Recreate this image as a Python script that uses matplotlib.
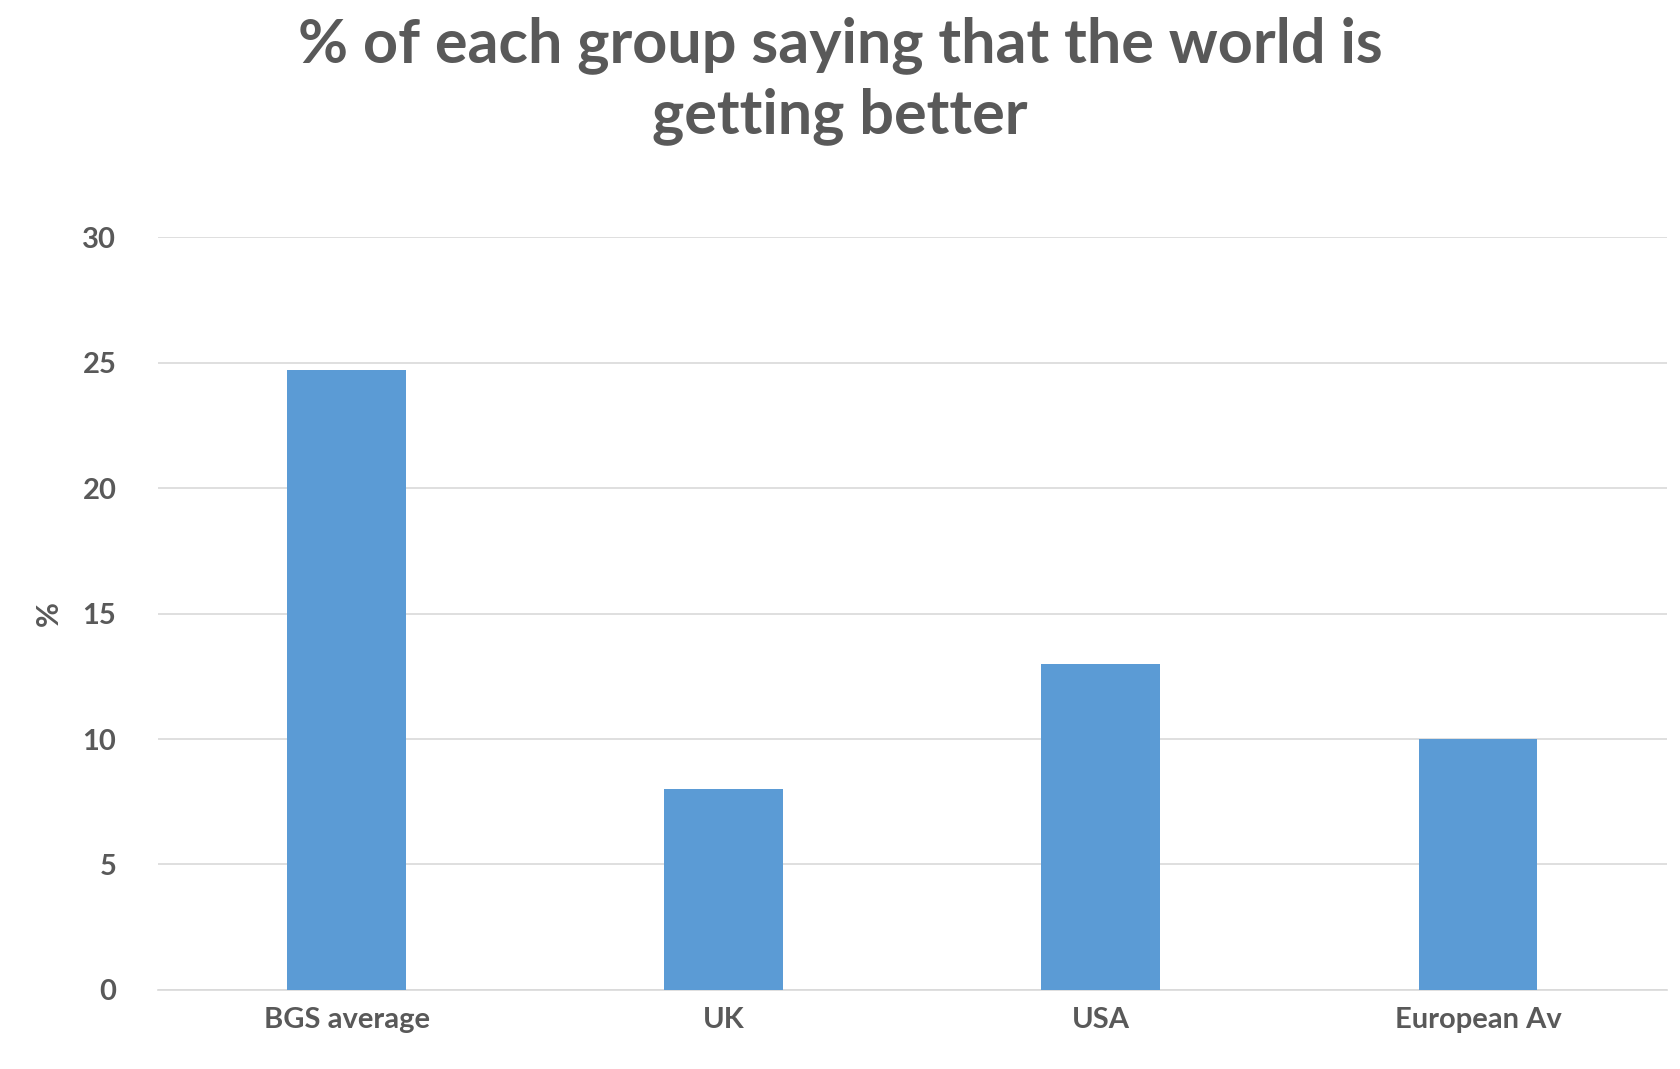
import matplotlib.pyplot as plt

categories = ["BGS average", "UK", "USA", "European Av"]
values = [24.7, 8, 13, 10]
yticks = [0, 5, 10, 15, 20, 25, 30]

plt.rcParams['font.family'] = ['Lato', 'DejaVu Sans']
grey = "#595959"

fig = plt.figure(figsize=(16.8, 10.69), dpi=100)
ax = fig.add_axes([0.094, 0.074, 0.898, 0.704])

x = range(len(categories))
ax.bar(x, values, width=0.315, color="#5B9BD5", zorder=3)

ax.set_xlim(-0.5, len(categories) - 0.5)
ax.set_ylim(0, 30)
ax.set_yticks(yticks)
ax.set_xticks(list(x))
ax.set_xticklabels(categories)
ax.grid(axis='y', color="#D9D9D9", linewidth=1.2, zorder=0)
for s in ['top', 'right', 'left']:
    ax.spines[s].set_visible(False)
ax.spines['bottom'].set_color("#D9D9D9")
ax.spines['bottom'].set_linewidth(1.2)
ax.tick_params(length=0, labelsize=21, colors=grey, pad=12)
for t in ax.get_xticklabels() + ax.get_yticklabels():
    t.set_fontweight('bold')
ax.tick_params(axis='y', pad=30)

ax.set_ylabel("%", fontsize=22, fontweight='bold', color=grey, labelpad=14)
fig.suptitle("% of each group saying that the world is\ngetting better",
             fontsize=44, fontweight='bold', color=grey, y=0.985, x=0.5,
             linespacing=1.3)

fig.savefig("out.png", dpi=100)
